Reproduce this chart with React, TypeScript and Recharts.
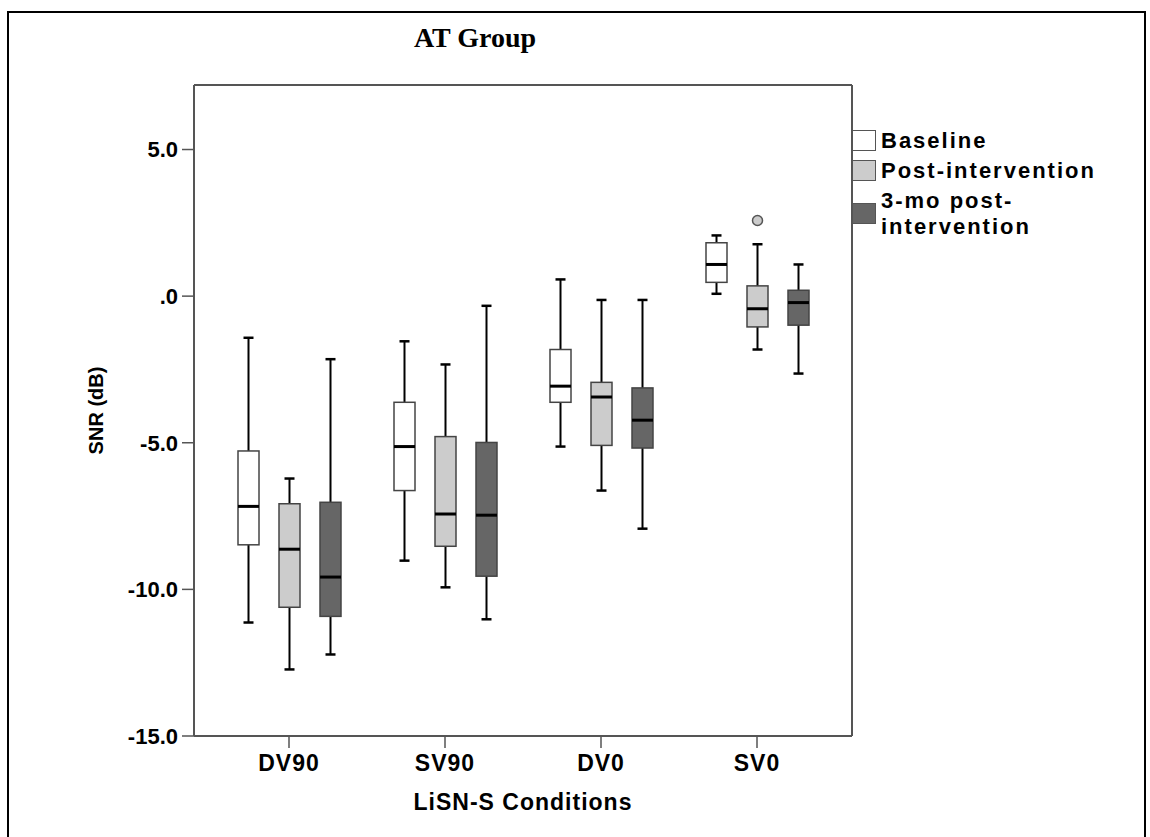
import React from 'react';
import { ComposedChart, Bar, XAxis, YAxis, Legend } from 'recharts';

const categories = ['DV90', 'SV90', 'DV0', 'SV0'];
const seriesNames = ['Baseline', 'Post-intervention', '3-mo post-intervention'];

const baselineMin = [-11.13, -9.02, -5.13, 0.08];
const baselineQ1 = [-8.48, -6.63, -3.62, 0.47];
const baselineMed = [-7.17, -5.13, -3.07, 1.08];
const baselineQ3 = [-5.28, -3.62, -1.82, 1.82];
const baselineMax = [-1.42, -1.54, 0.57, 2.07];

const postMin = [-12.73, -9.93, -6.63, -1.82];
const postQ1 = [-10.61, -8.53, -5.09, -1.05];
const postMed = [-8.63, -7.43, -3.44, -0.43];
const postQ3 = [-7.08, -4.79, -2.94, 0.35];
const postMax = [-6.22, -2.33, -0.13, 1.77];
const postOutliers = [null, null, null, 2.58];

const followMin = [-12.22, -11.02, -7.93, -2.64];
const followQ1 = [-10.92, -9.55, -5.18, -0.99];
const followMed = [-9.58, -7.47, -4.23, -0.22];
const followQ3 = [-7.03, -4.99, -3.13, 0.2];
const followMax = [-2.15, -0.33, -0.13, 1.08];

const yTicks = [-15, -10, -5, 0, 5];

const COLORS = ['#ffffff', '#cccccc', '#666666'];
const FONT = '"Liberation Sans", Arial, sans-serif';
const AXIS = '#555555';

const data = categories.map((cat, i) => ({
  cat,
  baseline: [baselineMin[i], baselineMax[i]],
  baselineStats: { min: baselineMin[i], q1: baselineQ1[i], med: baselineMed[i], q3: baselineQ3[i], max: baselineMax[i], out: null },
  post: [postMin[i], postMax[i]],
  postStats: { min: postMin[i], q1: postQ1[i], med: postMed[i], q3: postQ3[i], max: postMax[i], out: postOutliers[i] },
  follow: [followMin[i], followMax[i]],
  followStats: { min: followMin[i], q1: followQ1[i], med: followMed[i], q3: followQ3[i], max: followMax[i], out: null },
}));

function makeBoxShape(key: string, fill: string) {
  return (props: any) => {
    const { x, y, width, height, payload } = props;
    const s = payload[key + 'Stats'];
    if (!s || !isFinite(y) || !isFinite(height)) return null;
    const top = Math.min(y, y + height);
    const bottom = Math.max(y, y + height);
    const px = (v: number) => bottom - ((v - s.min) / (s.max - s.min)) * (bottom - top);
    const cx = x + width / 2;
    const cap = 5;
    return (
      <g>
        <line x1={cx} x2={cx} y1={px(s.max)} y2={px(s.min)} stroke="#000" strokeWidth={2} />
        <line x1={cx - cap} x2={cx + cap} y1={px(s.max)} y2={px(s.max)} stroke="#000" strokeWidth={2.5} />
        <line x1={cx - cap} x2={cx + cap} y1={px(s.min)} y2={px(s.min)} stroke="#000" strokeWidth={2.5} />
        <rect x={x} y={px(s.q3)} width={width} height={px(s.q1) - px(s.q3)} fill={fill} stroke="#444" strokeWidth={1.5} />
        <line x1={x} x2={x + width} y1={px(s.med)} y2={px(s.med)} stroke="#000" strokeWidth={3} />
        {s.out != null && (
          <circle cx={cx} cy={px(s.out)} r={5} fill="#cccccc" stroke="#555" strokeWidth={1.5} />
        )}
      </g>
    );
  };
}

const legendContent = () => (
  <div style={{ position: 'relative', width: 290, height: 115, fontFamily: FONT, fontWeight: 'bold', fontSize: 22, letterSpacing: 2, color: '#000' }}>
    {seriesNames.map((name, i) => {
      const tops = [2, 32, 75];
      return (
        <div key={name}>
          <div style={{ position: 'absolute', left: 0, top: tops[i], width: 24, height: 21, background: COLORS[i], border: '1.5px solid #555', boxSizing: 'border-box' }} />
          {i === 2 ? (
            <>
              <div style={{ position: 'absolute', left: 29, top: tops[i] - 15, lineHeight: '26px', whiteSpace: 'nowrap' }}>3-mo post-</div>
              <div style={{ position: 'absolute', left: 29, top: tops[i] + 11, lineHeight: '26px', whiteSpace: 'nowrap' }}>intervention</div>
            </>
          ) : (
            <div style={{ position: 'absolute', left: 29, top: tops[i] - 2, lineHeight: '26px', whiteSpace: 'nowrap' }}>{name}</div>
          )}
        </div>
      );
    })}
  </div>
);

const yLabel = (props: any) => {
  const vb = props.viewBox || { x: 0, y: 85, width: 194, height: 651 };
  const cx = 96;
  const cy = vb.y + vb.height / 2;
  return (
    <text x={cx} y={cy} transform={`rotate(-90 ${cx} ${cy})`} textAnchor="middle" dominantBaseline="central" fontFamily={FONT} fontWeight="bold" fontSize={20} fill="#000">
      SNR (dB)
    </text>
  );
};

const xLabel = (props: any) => {
  const vb = props.viewBox || { x: 194, y: 736, width: 658, height: 101 };
  const cx = vb.x + vb.width / 2;
  return (
    <text x={cx} y={810} textAnchor="middle" fontFamily={FONT} fontWeight="bold" fontSize={23} letterSpacing={1} fill="#000">
      LiSN-S Conditions
    </text>
  );
};

export default function App() {
  return (
    <div style={{ position: 'absolute', left: 0, top: 0, width: 1150, height: 837, background: '#fff' }}>
      <svg width={1150} height={837} style={{ position: 'absolute', left: 0, top: 0 }}>
        <line x1={8} x2={8} y1={11} y2={837} stroke="#000" strokeWidth={2} />
        <line x1={7} x2={1146} y1={12} y2={12} stroke="#000" strokeWidth={2} />
        <line x1={1145} x2={1145} y1={11} y2={837} stroke="#000" strokeWidth={2} />
        <text x={475} y={47} textAnchor="middle" fontFamily='"Liberation Serif", "Times New Roman", serif' fontWeight="bold" fontSize={28} fill="#000">
          AT Group
        </text>
      </svg>
      <div style={{ position: 'absolute', left: 0, top: 0 }}>
        <ComposedChart
          width={1150}
          height={837}
          data={data}
          margin={{ top: 84, right: 297, bottom: 0, left: 0 }}
          barSize={21}
          barGap={20}
        >
          <XAxis
            dataKey="cat"
            height={101}
            padding={{ left: 17, right: 17 }}
            axisLine={{ stroke: AXIS, strokeWidth: 2 }}
            tickLine={{ stroke: AXIS, strokeWidth: 1.5 }}
            tickSize={12}
            tickMargin={7}
            tick={{ fontFamily: FONT, fontWeight: 'bold', fontSize: 23, fill: '#000', letterSpacing: 1 }}
            label={{ content: xLabel }}
          />
          <XAxis
            xAxisId="top"
            orientation="top"
            dataKey="cat"
            height={1}
            tick={false}
            tickLine={false}
            axisLine={{ stroke: AXIS, strokeWidth: 2 }}
          />
          <YAxis
            type="number"
            domain={[-15, 7.2]}
            ticks={yTicks}
            width={194}
            allowDataOverflow
            axisLine={{ stroke: AXIS, strokeWidth: 2 }}
            tickLine={{ stroke: AXIS, strokeWidth: 1.5 }}
            tickSize={12}
            tickMargin={4}
            tickFormatter={(v: number) => (v === 0 ? '.0' : v.toFixed(1))}
            tick={{ fontFamily: FONT, fontWeight: 'bold', fontSize: 22, fill: '#000' }}
            label={{ content: yLabel }}
          />
          <YAxis
            yAxisId="right"
            orientation="right"
            width={1}
            tick={false}
            tickLine={false}
            axisLine={{ stroke: AXIS, strokeWidth: 2 }}
          />
          <Legend
            layout="vertical"
            align="center"
            verticalAlign="middle"
            content={legendContent}
            wrapperStyle={{ left: 852, top: 128, width: 290, height: 115, margin: 0, padding: 0 }}
          />
          <Bar dataKey="baseline" name={seriesNames[0]} fill={COLORS[0]} isAnimationActive={false} shape={makeBoxShape('baseline', COLORS[0])} />
          <Bar dataKey="post" name={seriesNames[1]} fill={COLORS[1]} isAnimationActive={false} shape={makeBoxShape('post', COLORS[1])} />
          <Bar dataKey="follow" name={seriesNames[2]} fill={COLORS[2]} isAnimationActive={false} shape={makeBoxShape('follow', COLORS[2])} />
        </ComposedChart>
      </div>
    </div>
  );
}
